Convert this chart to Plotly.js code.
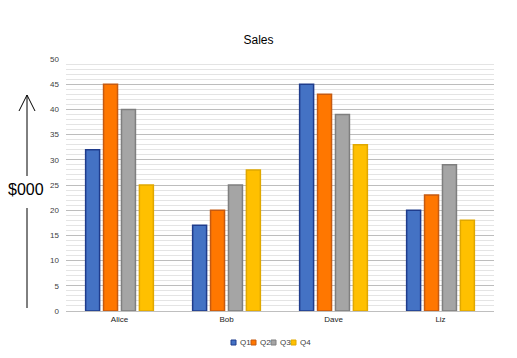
<!DOCTYPE html>
<html>
<head>
<meta charset="utf-8">
<script src="https://cdn.plot.ly/plotly-3.0.1.min.js"></script>
<style>html,body{margin:0;padding:0;background:#fff;}#chart{width:517px;height:358px;}</style>
</head>
<body>
<div id="chart"></div>
<script>
const categories = ["Alice", "Bob", "Dave", "Liz"];
const seriesNames = ["Q1", "Q2", "Q3", "Q4"];
const q1 = [32, 17, 45, 20];
const q2 = [45, 20, 43, 23];
const q3 = [40, 25, 39, 29];
const q4 = [25, 28, 33, 18];
const yTicks = [0, 5, 10, 15, 20, 25, 30, 35, 40, 45, 50];

const fills = ["#4472C4", "#FF7700", "#A5A5A5", "#FFC000"];
const borders = ["#1F3C8C", "#C55A11", "#7F7F7F", "#E0A800"];
const values = [q1, q2, q3, q4];

const traces = values.map((v, i) => ({
  type: "bar",
  name: seriesNames[i],
  x: categories,
  y: v,
  marker: {color: fills[i], line: {color: borders[i], width: 1.5}},
  showlegend: false,
  hoverinfo: "skip"
}));

// pixel -> paper helpers (plot area: x 66..494, y 59..311)
const px = p => (p - 66) / 428;
const py = p => (311 - p) / 252;

// compact legend: small swatches + labels
const legendShapes = seriesNames.map((n, i) => ({
  type: "rect", xref: "paper", yref: "paper",
  x0: px(231 + 20 * i), x1: px(236 + 20 * i),
  y0: py(345), y1: py(340),
  fillcolor: fills[i], line: {color: borders[i], width: 1}
}));
const legendLabels = seriesNames.map((n, i) => ({
  text: n, xref: "paper", yref: "paper",
  x: px(237.5 + 20 * i), y: py(342.5),
  xanchor: "left", yanchor: "middle", showarrow: false,
  font: {size: 8, color: "#404040"}
}));

const layout = {
  width: 517, height: 358,
  margin: {l: 66, r: 23, t: 59, b: 47},
  paper_bgcolor: "#fff", plot_bgcolor: "#fff",
  font: {family: "Liberation Sans, Arial, sans-serif", color: "#404040"},
  title: {text: "Sales", font: {size: 12, color: "#000"}, x: 0.5, xanchor: "center", y: 0.888, yanchor: "middle"},
  barmode: "group",
  bargap: 0.33,
  bargroupgap: 0.22,
  showlegend: false,
  xaxis: {
    type: "category",
    showline: true, linecolor: "#bfbfbf", linewidth: 1,
    ticks: "", tickfont: {size: 8, color: "#222"},
    showgrid: false, zeroline: false
  },
  yaxis: {
    range: [0, 50],
    tickvals: yTicks,
    ticktext: yTicks.map(String),
    tickfont: {size: 8, color: "#404040"},
    showgrid: true, gridcolor: "#bdbdbd", gridwidth: 1,
    zeroline: false, showline: false,
    ticklabelstandoff: 6,
    minor: {dtick: 1, tick0: 0, showgrid: true, gridcolor: "#e4e4e4", gridwidth: 1, ticks: ""}
  },
  shapes: [
    {type: "line", xref: "paper", yref: "paper", x0: px(27), x1: px(27), y0: py(308), y1: py(208), line: {color: "#000", width: 1}},
    {type: "line", xref: "paper", yref: "paper", x0: px(27), x1: px(27), y0: py(176), y1: py(95), line: {color: "#000", width: 1}},
    {type: "path", xref: "paper", yref: "paper",
     path: "M " + px(19) + " " + py(111) + " L " + px(27) + " " + py(95) + " L " + px(35) + " " + py(111),
     line: {color: "#000", width: 1}}
  ].concat(legendShapes),
  annotations: [
    {text: "$000", xref: "paper", yref: "paper", x: px(26), y: py(190), showarrow: false, xanchor: "center", yanchor: "middle", font: {size: 16, color: "#000"}}
  ].concat(legendLabels)
};

Plotly.newPlot("chart", traces, layout, {displayModeBar: false, staticPlot: true});
</script>
</body>
</html>
